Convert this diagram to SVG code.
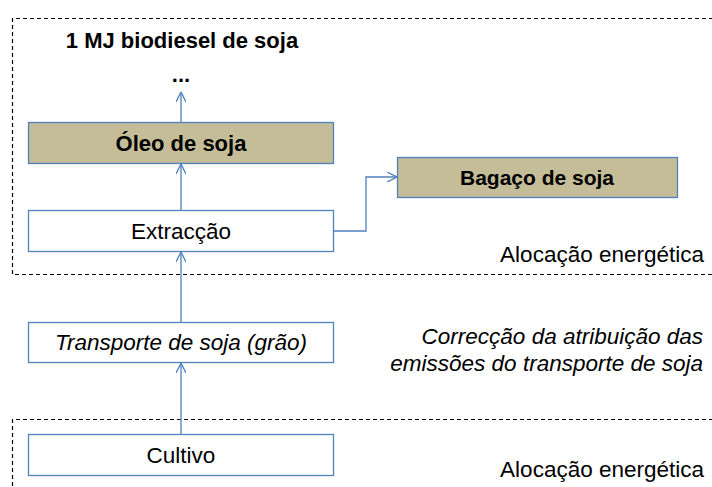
<svg xmlns="http://www.w3.org/2000/svg" width="712" height="487" viewBox="0 0 712 487">
<style>
.box{fill:#ffffff;stroke:#4f81bd;stroke-width:1.3}
.prod{fill:#c4bd97;stroke:#4f81bd;stroke-width:1.3}
.dash{fill:none;stroke:#000000;stroke-width:1.2;stroke-dasharray:4 3}
.con{fill:none;stroke:#4f81bd;stroke-width:1.3}
.t{font-family:"Liberation Sans",Arial,sans-serif;font-size:22.5px;fill:#000000}
.b{font-weight:bold;font-size:22px}
.i{font-style:italic}
</style>
<defs>
<marker id="arr" viewBox="0 0 10 10" refX="10" refY="5" markerWidth="10" markerHeight="10" markerUnits="userSpaceOnUse" orient="auto">
<path d="M0,0 L10,5 L0,10" fill="none" stroke="#4f81bd" stroke-width="1.3"/>
</marker>
</defs>
<rect width="712" height="487" fill="#ffffff"/>
<g id="regions">
<path class="dash" d="M720,18.5 H12.5 V274.5 H720"/>
<path class="dash" d="M720,419.5 H12.5 V495"/>
</g>
<g id="connectors">
<line class="con" x1="181" y1="122" x2="181" y2="92" marker-end="url(#arr)"/>
<line class="con" x1="181" y1="210" x2="181" y2="164" marker-end="url(#arr)"/>
<line class="con" x1="181" y1="322" x2="181" y2="252" marker-end="url(#arr)"/>
<line class="con" x1="181" y1="434" x2="181" y2="363" marker-end="url(#arr)"/>
<polyline class="con" points="334,231 366,231 366,177 397,177" marker-end="url(#arr)"/>
</g>
<g id="title">
<text class="t b" x="182" y="48" text-anchor="middle">1 MJ biodiesel de soja</text>
<text class="t b" x="181" y="82" text-anchor="middle">...</text>
</g>
<g id="oleo">
<rect class="prod" x="28.5" y="122.5" width="305" height="41"/>
<text class="t b" x="181" y="151" text-anchor="middle">Óleo de soja</text>
</g>
<g id="bagaco">
<rect class="prod" x="397.5" y="157.5" width="280" height="40"/>
<text class="t b" x="537" y="185" text-anchor="middle" style="font-size:21px">Bagaço de soja</text>
</g>
<g id="extraccao">
<rect class="box" x="28.5" y="210.5" width="305" height="41"/>
<text class="t" x="181" y="239" text-anchor="middle">Extracção</text>
</g>
<g id="transporte">
<rect class="box" x="28.5" y="322.5" width="305" height="40"/>
<text class="t i" x="181" y="350" text-anchor="middle">Transporte de soja (grão)</text>
</g>
<g id="cultivo">
<rect class="box" x="28.5" y="434.5" width="305" height="41"/>
<text class="t" x="181" y="463" text-anchor="middle">Cultivo</text>
</g>
<g id="labels">
<text class="t" x="704" y="262" text-anchor="end">Alocação energética</text>
<text class="t i" x="703" y="344" text-anchor="end">Correcção da atribuição das</text>
<text class="t i" x="703" y="371" text-anchor="end">emissões do transporte de soja</text>
<text class="t" x="704" y="477" text-anchor="end">Alocação energética</text>
</g>
</svg>
